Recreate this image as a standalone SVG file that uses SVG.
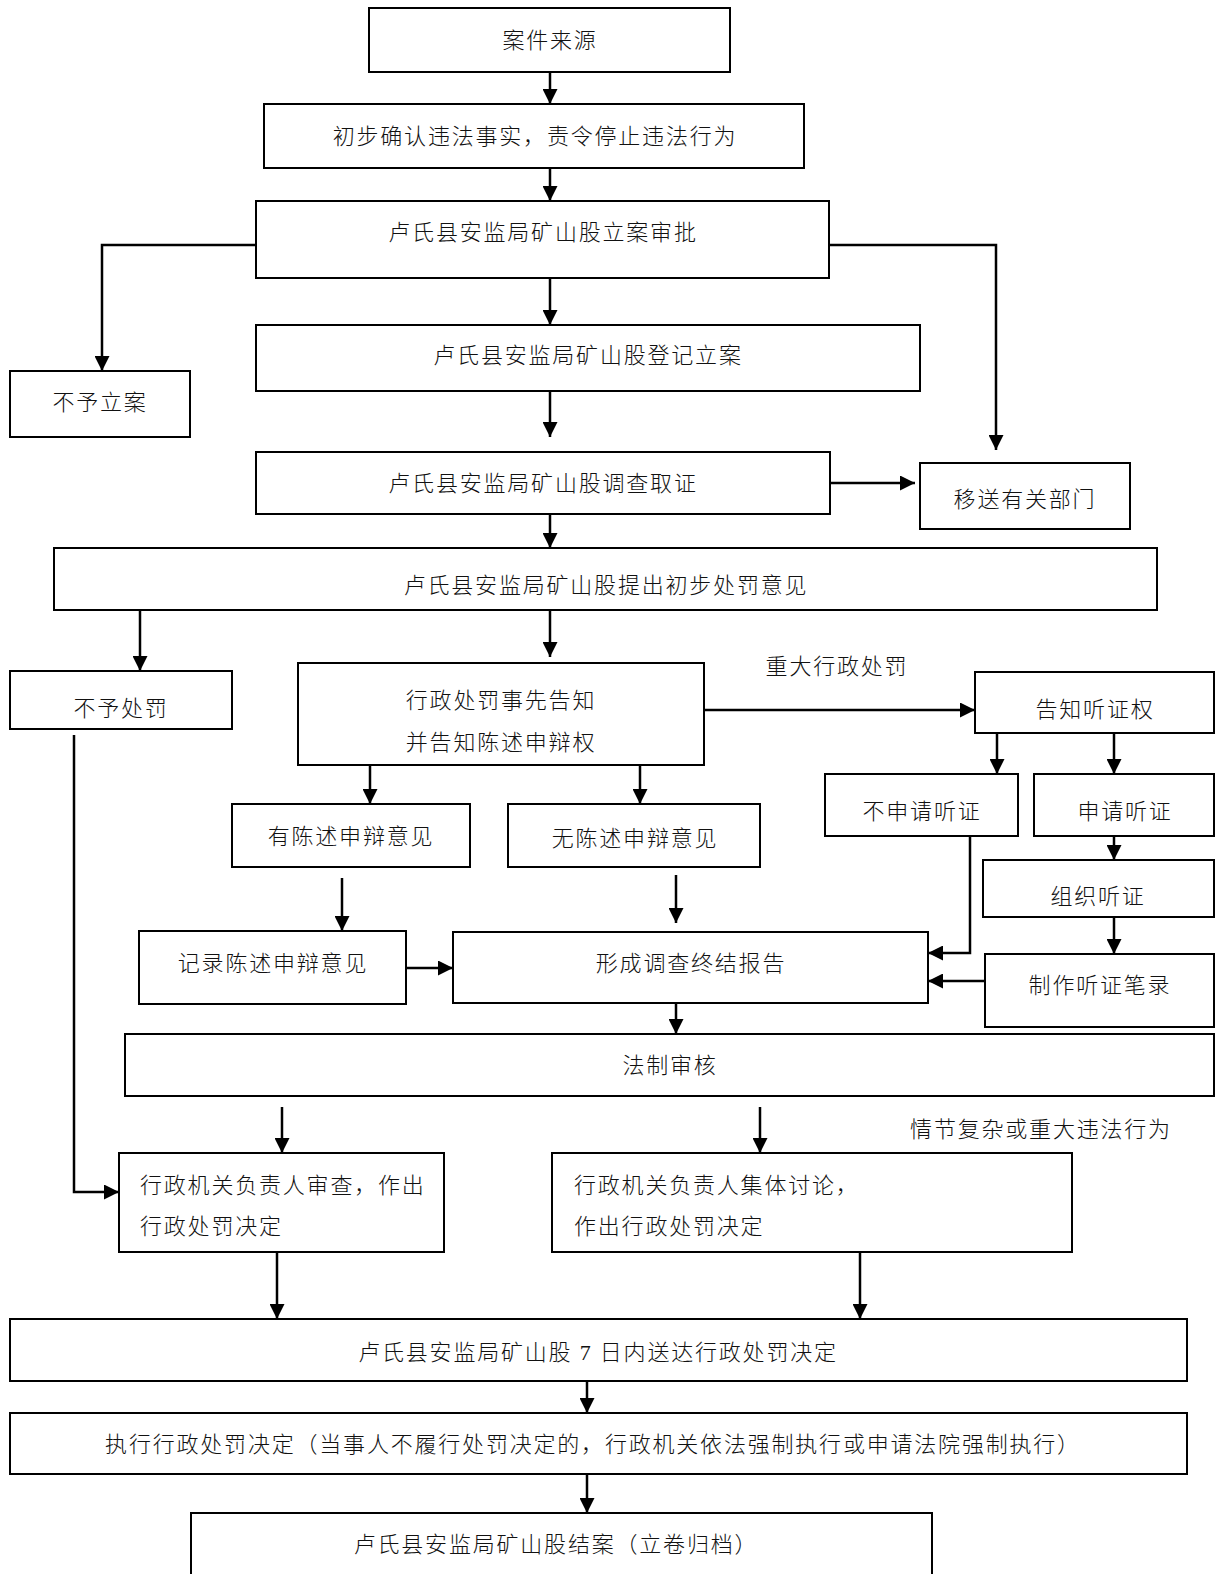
<svg xmlns="http://www.w3.org/2000/svg" width="1217" height="1574" viewBox="0 0 1217 1574">
<style>
rect{fill:#fff;stroke:#000;stroke-width:2}
text{font-family:"Liberation Serif","Noto Sans CJK SC",serif;font-size:22px;font-weight:300;letter-spacing:1.8px;fill:#111;dominant-baseline:central}
.c{text-anchor:middle}
.l{stroke:#000;stroke-width:2.5;fill:none}
.a{marker-end:url(#ah)}
</style>
<defs>
<marker id="ah" markerUnits="userSpaceOnUse" viewBox="0 0 15 15" refX="15" refY="7.5" markerWidth="15" markerHeight="15" orient="auto">
<path d="M0,0 L15,7.5 L0,15 z" fill="#000"/>
</marker>
</defs>
<rect x="0" y="0" width="1217" height="1574" style="stroke:none"/>
<g id="connectors">
<path class="l a" d="M550,72 V104"/>
<path class="l a" d="M550,168 V201"/>
<path class="l a" d="M256,245 H102 V371"/>
<path class="l a" d="M829,245 H996 V450"/>
<path class="l a" d="M550,278 V325"/>
<path class="l a" d="M550,391 V437"/>
<path class="l a" d="M830,483 H915"/>
<path class="l a" d="M550,514 V548"/>
<path class="l a" d="M140,610 V671"/>
<path class="l a" d="M550,610 V657"/>
<path class="l a" d="M704,710 H975"/>
<path class="l a" d="M997,733 V774"/>
<path class="l a" d="M1114,733 V774"/>
<path class="l a" d="M370,765 V804"/>
<path class="l a" d="M640,765 V804"/>
<path class="l a" d="M342,878 V931"/>
<path class="l a" d="M676,875 V923"/>
<path class="l a" d="M970,836 V953 H928"/>
<path class="l a" d="M1114,836 V860"/>
<path class="l a" d="M1114,917 V954"/>
<path class="l a" d="M985,981 H928"/>
<path class="l a" d="M406,968 H453"/>
<path class="l a" d="M676,1003 V1034"/>
<path class="l a" d="M74,735 V1192 H119"/>
<path class="l a" d="M282,1107 V1153"/>
<path class="l a" d="M760,1107 V1153"/>
<path class="l a" d="M277,1252 V1319"/>
<path class="l a" d="M860,1252 V1319"/>
<path class="l a" d="M587,1381 V1413"/>
<path class="l a" d="M587,1474 V1513"/>
</g>
<g id="n1"><rect x="369" y="8" width="361" height="64"/><text class="c" x="550" y="40">案件来源</text></g>
<g id="n2"><rect x="264" y="104" width="540" height="64"/><text class="c" x="535" y="136">初步确认违法事实，责令停止违法行为</text></g>
<g id="n3"><rect x="256" y="201" width="573" height="77"/><text class="c" x="543" y="232">卢氏县安监局矿山股立案审批</text></g>
<g id="n4"><rect x="10" y="371" width="180" height="66"/><text class="c" x="100" y="402">不予立案</text></g>
<g id="n5"><rect x="256" y="325" width="664" height="66"/><text class="c" x="588" y="355">卢氏县安监局矿山股登记立案</text></g>
<g id="n6"><rect x="256" y="452" width="574" height="62"/><text class="c" x="543" y="483">卢氏县安监局矿山股调查取证</text></g>
<g id="n7"><rect x="920" y="463" width="210" height="66"/><text class="c" x="1025" y="499">移送有关部门</text></g>
<g id="n8"><rect x="54" y="548" width="1103" height="62"/><text class="c" x="606" y="585">卢氏县安监局矿山股提出初步处罚意见</text></g>
<g id="n9"><rect x="10" y="671" width="222" height="58"/><text class="c" x="121" y="708">不予处罚</text></g>
<g id="n10"><rect x="298" y="663" width="406" height="102"/><text class="c" x="501" y="700">行政处罚事先告知</text><text class="c" x="501" y="742">并告知陈述申辩权</text></g>
<g id="lbl1"><text class="c" x="837" y="666">重大行政处罚</text></g>
<g id="n11"><rect x="975" y="672" width="239" height="61"/><text class="c" x="1095" y="709">告知听证权</text></g>
<g id="n12"><rect x="825" y="774" width="193" height="62"/><text class="c" x="922" y="811">不申请听证</text></g>
<g id="n13"><rect x="1034" y="774" width="180" height="62"/><text class="c" x="1125" y="811">申请听证</text></g>
<g id="n14"><rect x="983" y="860" width="231" height="57"/><text class="c" x="1098" y="896">组织听证</text></g>
<g id="n15"><rect x="985" y="954" width="229" height="73"/><text class="c" x="1100" y="985">制作听证笔录</text></g>
<g id="n16"><rect x="453" y="932" width="475" height="71"/><text class="c" x="691" y="963">形成调查终结报告</text></g>
<g id="n17"><rect x="232" y="804" width="238" height="63"/><text class="c" x="351" y="836">有陈述申辩意见</text></g>
<g id="n18"><rect x="508" y="804" width="252" height="63"/><text class="c" x="635" y="838">无陈述申辩意见</text></g>
<g id="n19"><rect x="139" y="931" width="267" height="73"/><text class="c" x="273" y="963">记录陈述申辩意见</text></g>
<g id="n20"><rect x="125" y="1034" width="1089" height="62"/><text class="c" x="670" y="1065">法制审核</text></g>
<g id="lbl2"><text class="c" x="1041" y="1129">情节复杂或重大违法行为</text></g>
<g id="n21"><rect x="119" y="1153" width="325" height="99"/><text x="140" y="1185">行政机关负责人审查，作出</text><text x="140" y="1226">行政处罚决定</text></g>
<g id="n22"><rect x="552" y="1153" width="520" height="99"/><text x="574" y="1185">行政机关负责人集体讨论，</text><text x="574" y="1226">作出行政处罚决定</text></g>
<g id="n23"><rect x="10" y="1319" width="1177" height="62"/><text class="c" x="598" y="1352">卢氏县安监局矿山股 7 日内送达行政处罚决定</text></g>
<g id="n24"><rect x="10" y="1413" width="1177" height="61"/><text class="c" x="593" y="1444">执行行政处罚决定（当事人不履行处罚决定的，行政机关依法强制执行或申请法院强制执行）</text></g>
<g id="n25"><rect x="191" y="1513" width="741" height="80"/><text class="c" x="556" y="1544">卢氏县安监局矿山股结案（立卷归档）</text></g>
</svg>
